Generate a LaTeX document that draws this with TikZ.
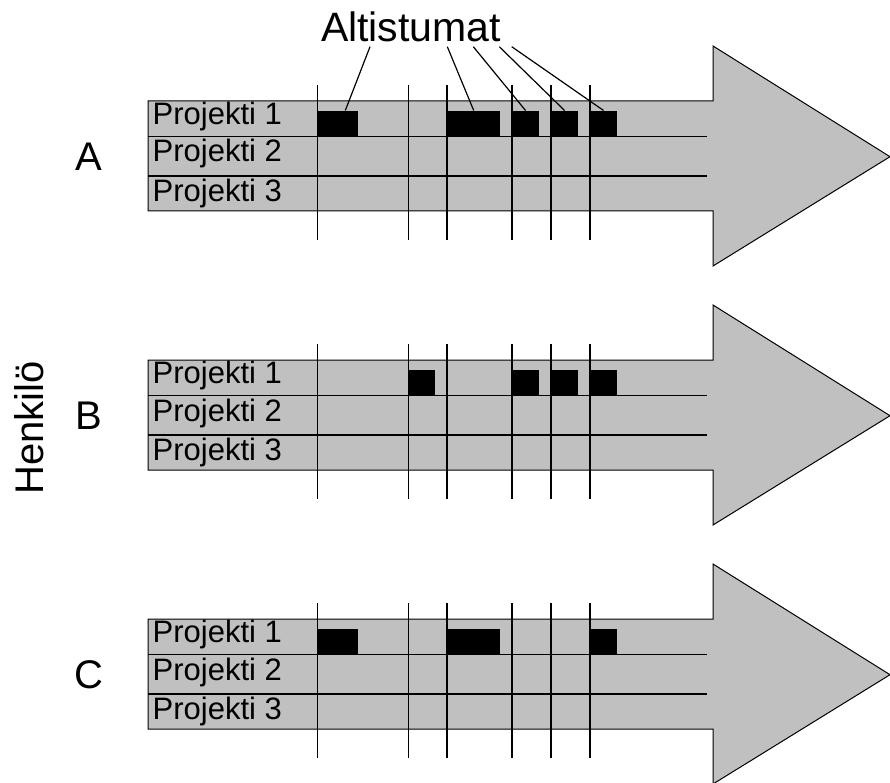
\documentclass[tikz,border=0pt]{standalone}
\usepackage{fontspec}
\setmainfont{Liberation Sans}
\usetikzlibrary{calc}
\definecolor{shaft}{HTML}{C0C0C0}
\begin{document}
\begin{tikzpicture}[x=1pt,y=-1pt,
  arrowbody/.style={fill=shaft,draw=black,line width=1pt,line join=miter},
  rowline/.style={line width=1.2pt},
  tick/.style={line width=1.2pt},
  block/.style={fill=black,draw=none,inner sep=0pt,anchor=north west,minimum height=26.5pt},
  rowlabel/.style={anchor=base west,inner sep=0pt,font=\fontsize{31}{31}\selectfont},
  person/.style={anchor=base,inner sep=0pt,font=\fontsize{40}{40}\selectfont},
  title/.style={anchor=base,inner sep=0pt,font=\fontsize{41}{41}\selectfont},
  leader/.style={line width=1.2pt}
]
\useasboundingbox (0,0) rectangle (890,783);

% one timeline arrow per person; \T is the top edge of the shaft
\foreach \who/\T/\blocks in {
    A/101/{317.7/357.3/1,447/500/2,512/538.7/3,551/577.7/4,590/616.7/5},
    B/360/{408.5/435/1,512/539/2,551/578/3,590/616.7/4},
    C/619/{317.7/357.3/1,447/500/2,590/616.7/3}} {
  \path[arrowbody] (148,\T) -- (713,\T) -- (713,\T-55) -- (890,\T+55.7)
     -- (713,\T+165) -- (713,\T+110) -- (148,\T+110) -- cycle;
  \foreach \dy [count=\r] in {35.7,75} {
    \coordinate (rs\who\r) at (148,\T+\dy);
    \coordinate (re\who\r) at (707,\T+\dy);
    \draw[rowline] (rs\who\r) -- (re\who\r);
  }
  \node[rowlabel] (p1\who) at (152.5,\T+23.5) {Projekti 1};
  \node[rowlabel] (p2\who) at (152.5,\T+61) {Projekti 2};
  \node[rowlabel] (p3\who) at (152.5,\T+100.5) {Projekti 3};
  \node[person] (name\who) at (89.3,\T+69.7) {\who};
  \foreach \xa/\xb/\k in \blocks {
    \pgfmathsetmacro{\w}{\xb-\xa}
    \node[block,minimum width=\w pt] (blk\who\k) at (\xa,\T+9.5) {};
  }
  \foreach \tx [count=\i] in {317.7,408.7,447,512,551,590} {
    \coordinate (tt\who\i) at (\tx,\T-16);
    \coordinate (tb\who\i) at (\tx,\T+139);
    \draw[tick] (tt\who\i) -- (tb\who\i);
  }
}

% axis label
\node[person,rotate=90] (henkilo) at (43,428) {Henkilö};

% exposure label with its leader lines
\node[title] (altistumat) at (411,41.7) {Altistumat};
\coordinate (l1) at (370,46.7);
\coordinate (l2) at (447.3,46.7);
\coordinate (l3) at (473.3,46.7);
\coordinate (l4) at (499.3,46.7);
\coordinate (l5) at (511.7,46.7);
\draw[leader] (l1) -- ($(blkA1.north west)!0.69!(blkA1.north east)$);
\draw[leader] (l2) -- (blkA2.north);
\draw[leader] (l3) -- (blkA3.north);
\draw[leader] (l4) -- (blkA4.north);
\draw[leader] (l5) -- (blkA5.north);
\end{tikzpicture}
\end{document}
